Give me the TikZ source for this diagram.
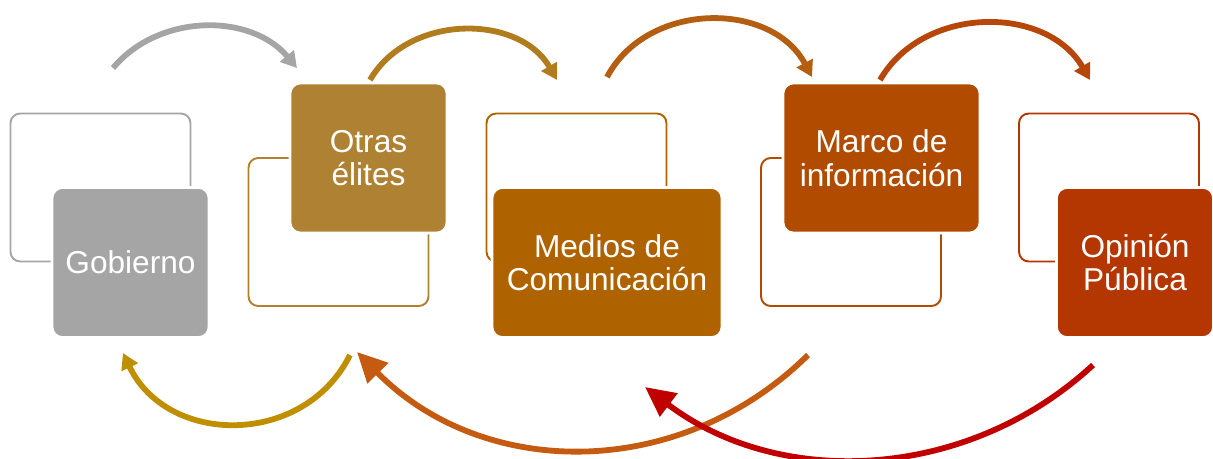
\documentclass[tikz,border=0pt]{standalone}
\usepackage{fontspec}
\setmainfont{Liberation Sans}
\usetikzlibrary{arrows.meta}
\definecolor{gobgray}{RGB}{165,165,165}
\definecolor{elitegold}{RGB}{174,130,50}
\definecolor{mediosbrown}{RGB}{175,99,0}
\definecolor{marcorust}{RGB}{176,75,0}
\definecolor{opinionred}{RGB}{180,54,0}
\definecolor{arrowgold}{RGB}{176,124,30}
\definecolor{arrowbrown}{RGB}{180,94,18}
\definecolor{arrowrust}{RGB}{182,70,10}
\definecolor{loopgold}{RGB}{191,143,0}
\definecolor{looporange}{RGB}{197,90,17}
\definecolor{loopred}{RGB}{192,0,0}

\tikzset{
  backbox/.style={draw=#1, line width=1.1pt, rounded corners=5.5pt,
    minimum width=3.6cm, minimum height=2.96cm},
  frontbox/.style={fill=#1, draw=white, line width=1.5pt, rounded corners=6pt,
    minimum height=3cm, text=white, align=center,
    font=\fontsize{18}{19}\selectfont},
  toparrow/.style={draw=#1, line width=3.3pt,
    -{Triangle[length=9pt,width=10pt]}},
  looparrow/.style={draw=#1, line width=3.3pt,
    -{Triangle[length=17pt,width=16pt]}}
}

\begin{document}
\begin{tikzpicture}[x=0.02cm, y=-0.02cm]
\useasboundingbox (0,0) rectangle (1213,458);

% outline boxes behind
\node[backbox=gobgray] (gobback) at (100.5,187.5) {};
\node[backbox=elitegold] (eliteback) at (338.5,232) {};
\node[backbox=mediosbrown] (mediosback) at (576.5,187.5) {};
\node[backbox=marcorust] (marcoback) at (851,232) {};
\node[backbox=opinionred] (opinionback) at (1109,187.5) {};

% filled boxes
\node[frontbox=gobgray, minimum width=3.14cm] (gobierno) at (130.5,262.5) {Gobierno};
\node[frontbox=elitegold, minimum width=3.14cm] (elites) at (368.5,158) {Otras\\élites};
\node[frontbox=mediosbrown, minimum width=4.6cm] (medios) at (607,262.5) {Medios de\\Comunicación};
\node[frontbox=marcorust, minimum width=3.94cm] (marco) at (881.5,158) {Marco de\\información};
\node[frontbox=opinionred, minimum width=3.14cm] (opinion) at (1135,262.5) {Opinión\\Pública};

% arrow ends
\coordinate (g1) at (113,68);   \coordinate (e1) at (297,68);
\coordinate (e2) at (370,80);   \coordinate (m2) at (557,80);
\coordinate (m3) at (607,77);   \coordinate (k3) at (812,77);
\coordinate (k4) at (880,80);   \coordinate (o4) at (1090,80);
\coordinate (eb) at (350,355);  \coordinate (gb) at (123,353);
\coordinate (kb) at (808,355);  \coordinate (ebt) at (357,352);
\coordinate (ob) at (1093,365); \coordinate (mb) at (645,387);

% forward arrows over the top
\draw[toparrow=gobgray] (g1) to[bend left=50] (e1);
\draw[toparrow=arrowgold] (e2) to[bend left=60, looseness=1.05] (m2);
\draw[toparrow=arrowbrown] (m3) to[bend left=62, looseness=1.08] (k3);
\draw[toparrow=arrowrust] (k4) to[bend left=60, looseness=1.06] (o4);

% feedback arrows underneath
\draw[toparrow=loopgold] (eb) to[bend left=64, looseness=1.16] (gb);
\draw[looparrow=looporange] (kb) to[bend left=45, looseness=1.02] (ebt);
\draw[looparrow=loopred] (ob) to[bend left=40, looseness=0.97] (mb);
\end{tikzpicture}
\end{document}
